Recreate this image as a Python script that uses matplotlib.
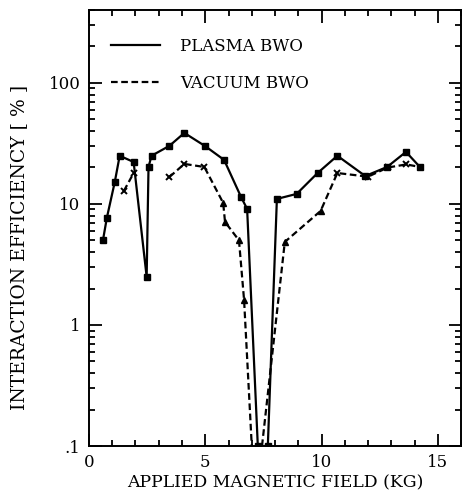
import numpy as np
import matplotlib
matplotlib.use("Agg")
import matplotlib.pyplot as plt
from matplotlib.lines import Line2D
from matplotlib.ticker import FixedLocator, FixedFormatter, MultipleLocator, LogLocator, NullFormatter

############################################################ DATA
# plasma BWO (solid line, squares)
plasma_b = [0.6, 0.77, 1.11, 1.32, 1.92, 2.48, 2.56, 2.69, 3.46, 4.1, 5.0, 5.81, 6.54, 6.8,
            7.26, 7.69, 8.08, 8.93, 9.83, 10.68, 11.88, 12.82, 13.63, 14.23]
plasma_eff = [5.0, 7.7, 15.2, 25.0, 22.2, 2.5, 20.2, 25.0, 30.2, 38.6, 30.0, 23.1, 11.4, 9.1,
              0.1, 0.1, 11.0, 12.1, 18.0, 25.0, 17.0, 20.2, 26.9, 20.2]

# vacuum BWO (dashed line), three separate pieces
vac1_b = [1.5, 1.92]
vac1_eff = [12.8, 18.0]
vac2_b = [3.46, 4.1, 4.96, 5.77, 5.85, 6.45, 6.67, 7.0]
vac2_eff = [16.7, 21.4, 20.2, 10.2, 7.1, 5.0, 1.6, 0.1]
vac3_b = [7.44, 8.42, 9.96, 10.68, 12.0, 12.85, 13.65, 14.23]
vac3_eff = [0.1, 4.85, 8.75, 18.0, 16.8, 20.0, 21.2, 20.2]

# which vacuum points carry a cross and which a triangle
cross_b = [1.5, 1.92, 3.46, 4.1, 4.96, 10.68, 12.0, 12.85, 13.65]
cross_eff = [12.8, 18.0, 16.7, 21.4, 20.2, 18.0, 16.8, 20.0, 21.2]
tri_b = [5.77, 5.85, 6.45, 6.67, 8.42, 9.96]
tri_eff = [10.2, 7.1, 5.0, 1.6, 4.85, 8.75]

y_ticks = [0.1, 1, 10, 100]
y_ticklabels = ['.1', '1', '10', '100']
x_ticks = [0, 5, 10, 15]

############################################################ PLOT
plt.rcParams['font.family'] = 'DejaVu Serif'
fig = plt.figure(figsize=(4.62, 4.93), dpi=100)
ax = fig.add_axes([0.1926, 0.0953, 0.8054, 0.8844])

dash = (3, 1.6)
ax.plot(plasma_b, plasma_eff, color='black', linestyle='-', lw=1.6, marker='s', ms=5)
ax.plot(vac1_b, vac1_eff, color='black', linestyle='--', lw=1.6, dashes=dash)
ax.plot(vac2_b, vac2_eff, color='black', linestyle='--', lw=1.6, dashes=dash)
ax.plot(vac3_b, vac3_eff, color='black', linestyle='--', lw=1.6, dashes=dash)
ax.plot(cross_b, cross_eff, linestyle='none', marker='x', ms=5, mew=1.4, color='black')
ax.plot(tri_b, tri_eff, linestyle='none', marker='^', ms=5, color='black')

ax.set_yscale('log')
ax.set_xlim(0, 16)
ax.set_ylim(0.1, 400)

ax.xaxis.set_major_locator(FixedLocator(x_ticks))
ax.xaxis.set_minor_locator(MultipleLocator(1))
ax.yaxis.set_major_locator(FixedLocator(y_ticks))
ax.yaxis.set_major_formatter(FixedFormatter(y_ticklabels))
ax.yaxis.set_minor_locator(LogLocator(base=10, subs=np.arange(2, 10)))
ax.yaxis.set_minor_formatter(NullFormatter())

ax.tick_params(which='both', direction='in', top=True, right=True, width=1.3)
ax.tick_params(which='major', length=9, labelsize=12, pad=6)
ax.tick_params(which='minor', length=4.5)
for s in ax.spines.values():
    s.set_linewidth(1.4)

ax.set_xlabel('APPLIED MAGNETIC FIELD (KG)', fontsize=12.4, labelpad=2)
ax.set_ylabel('INTERACTION EFFICIENCY [ % ]', fontsize=13.5)
ax.yaxis.set_label_coords(-0.165, 0.455)

handles = [Line2D([], [], color='black', lw=1.6, linestyle='-'),
           Line2D([], [], color='black', lw=1.6, linestyle='--', dashes=dash)]
ax.legend(handles, ['PLASMA BWO', 'VACUUM BWO'], loc='upper left',
          bbox_to_anchor=(0.02, 0.971), frameon=False, fontsize=12,
          handlelength=2.9, handletextpad=1.2, labelspacing=1.2)

plt.savefig('out.png', dpi=100)
